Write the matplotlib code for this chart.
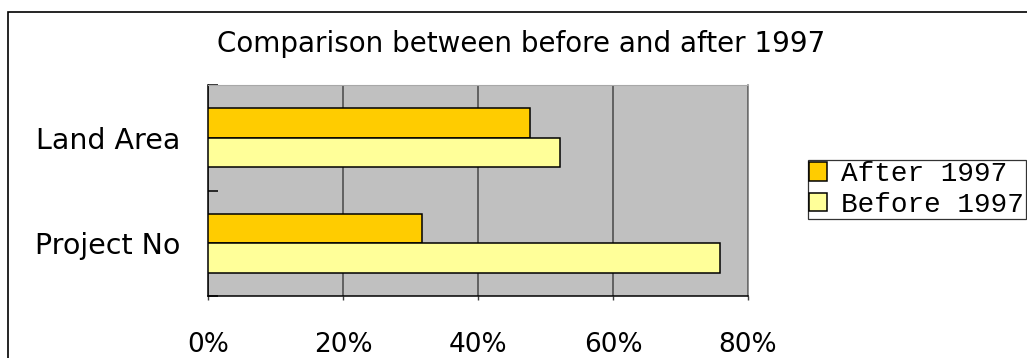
import matplotlib.pyplot as plt
from matplotlib.patches import Rectangle
from matplotlib.ticker import FixedLocator, PercentFormatter

# data
categories = ['Project No', 'Land Area']
after_1997 = [0.317, 0.477]
before_1997 = [0.759, 0.521]
x_ticks = [0.0, 0.2, 0.4, 0.6, 0.8]

W, H = 1027, 358
fig = plt.figure(figsize=(W / 100, H / 100), dpi=100)

# document frame around the chart
fig.patches.append(Rectangle((8 / W, -0.1), 1.2, 1 - 12 / H + 0.1,
                             transform=fig.transFigure, fill=False,
                             edgecolor='black', linewidth=1.2, clip_on=False))

ax = fig.add_axes([208 / W, 1 - 296 / H, 540 / W, 211 / H])
ax.set_facecolor('#C0C0C0')

pos = list(range(len(categories)))
bh = 0.28
ax.barh([p + bh / 2 for p in pos], after_1997, height=bh, color='#FFCC00',
        edgecolor='black', linewidth=1.1, label='After 1997', zorder=3)
ax.barh([p - bh / 2 for p in pos], before_1997, height=bh, color='#FFFF99',
        edgecolor='black', linewidth=1.1, label='Before 1997', zorder=3)

ax.set_xlim(0, 0.8)
ax.set_ylim(-0.5, len(categories) - 0.5)

ax.set_xticks(x_ticks)
ax.xaxis.set_major_formatter(PercentFormatter(1.0, decimals=0))
ax.tick_params(axis='x', length=3, width=1, pad=23, labelsize=19,
               color='#404040')
ax.grid(axis='x', color='#5A5A5A', linewidth=1.3, zorder=1)

ax.set_yticks(pos)
ax.set_yticklabels(categories)
ax.tick_params(axis='y', which='major', length=0, pad=20, labelsize=20.5)
ax.yaxis.set_minor_locator(FixedLocator([p + 0.5 for p in pos] + [-0.5]))
ax.tick_params(axis='y', which='minor', direction='in', length=7, width=1.1,
               color='black')

for side in ['left', 'bottom']:
    ax.spines[side].set_color('black')
    ax.spines[side].set_linewidth(1.1)
ax.spines['top'].set_color('#A8A8A8')
ax.spines['right'].set_color('#707070')
ax.spines['right'].set_linewidth(1.1)

fig.text(521 / W, 1 - 52 / H, 'Comparison between before and after 1997',
         ha='center', va='baseline', fontsize=20)

handles, labels = ax.get_legend_handles_labels()
leg = fig.legend(handles, labels, loc='upper left',
                 bbox_to_anchor=(808 / W, 1 - 160 / H),
                 prop={'family': 'Liberation Mono', 'size': 20},
                 frameon=True, fancybox=False, shadow=False,
                 borderpad=0.05, labelspacing=0.15, handlelength=0.65,
                 handleheight=0.65, handletextpad=0.5, borderaxespad=0)
leg.get_frame().set_edgecolor('black')
leg.get_frame().set_linewidth(0.9)

fig.savefig('out.png', dpi=100)
